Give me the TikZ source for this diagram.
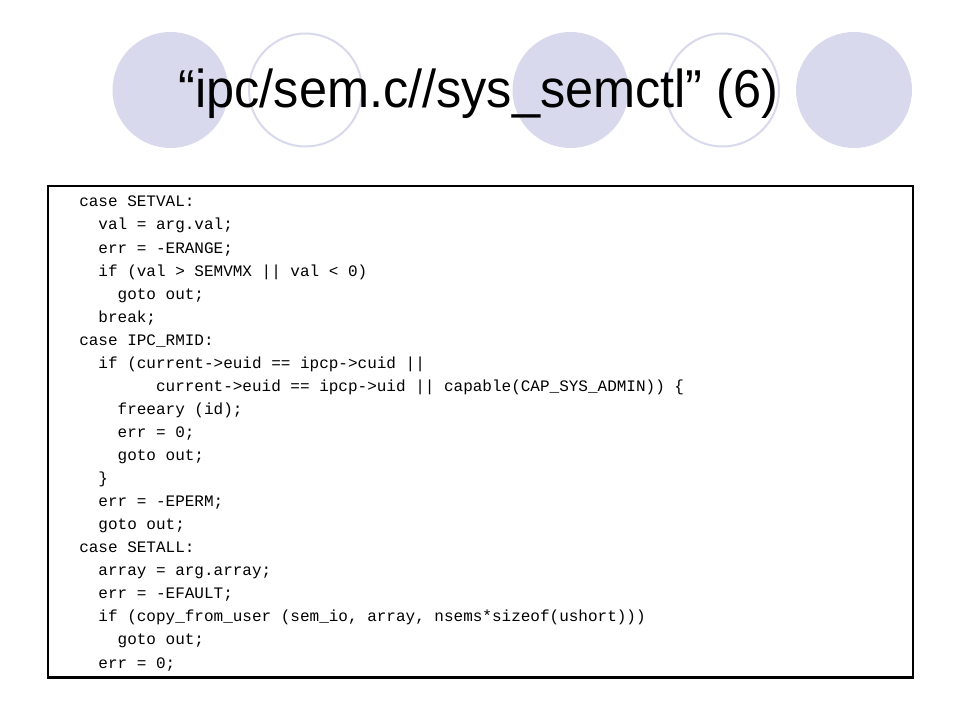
\documentclass[tikz,border=0pt]{standalone}
\usepackage{fontspec}
\setmainfont{Liberation Sans}
\setmonofont{Liberation Mono}
\usetikzlibrary{positioning}
\definecolor{lavender}{RGB}{217,217,237}
\newcommand{\cind}[1]{\hspace*{#1\dimexpr 7.2pt\relax}}
\tikzset{
  disc/.style={circle, fill=lavender, minimum size=87pt, inner sep=0pt},
  ring/.style={circle, draw=lavender, line width=1.5pt, minimum size=84.75pt, inner sep=0pt},
  codebox/.style={draw=black, line width=1.7pt, minimum width=648.75pt, minimum height=368.6pt, inner sep=0pt},
  codetext/.style={font=\fontsize{12}{17.29}\selectfont\ttfamily, align=left, anchor=base west, inner sep=0pt}
}

\begin{document}
\begin{tikzpicture}[x=0.75pt,y=-0.75pt]
        \useasboundingbox[fill=white] (0,0) rectangle (960,720);
        % circles behind the title
        \node[disc] (c1) at (170.5,90) {};
        \node[ring] (c2) at (305.5,90) {};
        \node[disc] (c3) at (570.5,90) {};
        \node[ring] (c4) at (722.5,90) {};
        \node[disc] (c5) at (854,90) {};
        \node[font=\fontsize{40}{48}\selectfont, anchor=base] (title) at (478.5,108) {\scalebox{0.946}[1]{“ipc/sem.c//sys\_semctl” (6)}};
        % code listing, anchored at the baseline of its last line
        \node[codebox] (box) at (480.5,431.75) {};
        \node[codetext] (code) at (79,668) {case SETVAL:\\
\cind{2}val = arg.val;\\
\cind{2}err = -ERANGE;\\
\cind{2}if (val > SEMVMX || val < 0)\\
\cind{4}goto out;\\
\cind{2}break;\\
case IPC\_RMID:\\
\cind{2}if (current->euid == ipcp->cuid ||\\
\cind{8}current->euid == ipcp->uid || capable(CAP\_SYS\_ADMIN)) \{\\
\cind{4}freeary (id);\\
\cind{4}err = 0;\\
\cind{4}goto out;\\
\cind{2}\}\\
\cind{2}err = -EPERM;\\
\cind{2}goto out;\\
case SETALL:\\
\cind{2}array = arg.array;\\
\cind{2}err = -EFAULT;\\
\cind{2}if (copy\_from\_user (sem\_io, array, nsems*sizeof(ushort)))\\
\cind{4}goto out;\\
\cind{2}err = 0;};
\end{tikzpicture}
\end{document}
